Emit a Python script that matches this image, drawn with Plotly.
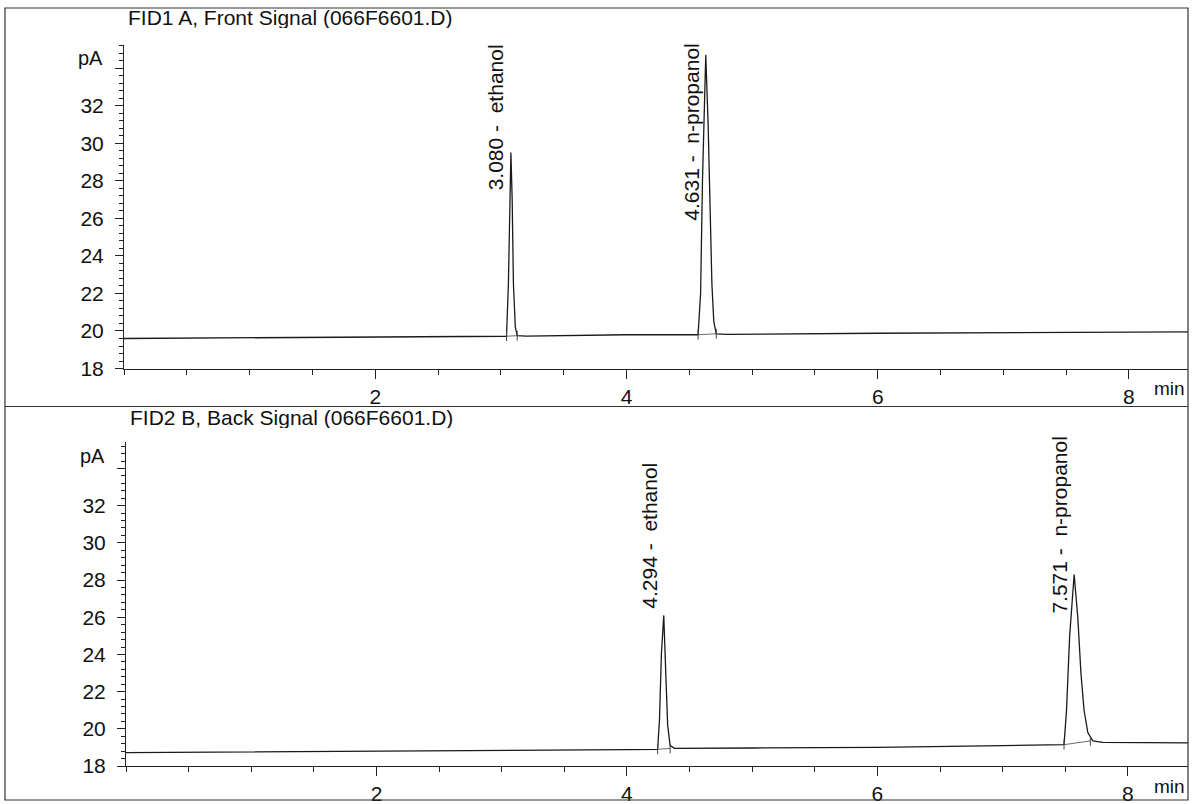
import plotly.graph_objects as go

W, H = 1193, 804
FIG_H = 814  # page height compensation (positions below are given as fractions of 804 px)

# ---------------- data ----------------
# Top panel: FID1 A, Front Signal
front_time = [0.0, 1.0, 2.0, 2.9, 3.045, 3.06, 3.07, 3.08, 3.09, 3.10, 3.115, 3.13, 3.2,
              4.0, 4.57, 4.59, 4.605, 4.631, 4.65, 4.665, 4.68, 4.695, 4.715, 4.8, 6.0, 8.5]
front_pA = [19.6, 19.65, 19.7, 19.72, 19.72, 22.5, 27.0, 29.5, 27.0, 22.5, 20.2, 19.75, 19.73,
            19.8, 19.8, 22.0, 28.0, 34.7, 31.0, 26.0, 22.5, 20.5, 19.85, 19.82, 19.88, 19.95]

# Bottom panel: FID2 B, Back Signal
back_time = [0.0, 1.0, 2.0, 3.0, 4.0, 4.245, 4.26, 4.275, 4.294, 4.31, 4.325, 4.345, 4.38,
             5.0, 6.0, 7.0, 7.49, 7.51, 7.535, 7.571, 7.6, 7.625, 7.65, 7.68, 7.72, 7.8, 8.5]
back_pA = [18.72, 18.75, 18.8, 18.85, 18.88, 18.9, 20.5, 24.0, 26.1, 23.0, 20.2, 19.1, 18.95,
           18.97, 19.0, 19.1, 19.15, 21.0, 25.0, 28.3, 26.0, 23.0, 21.0, 19.8, 19.35, 19.27, 19.25]

# Peak tables (retention time, apex value, name)
front_rt = [3.080, 4.631]
front_apex = [29.5, 34.7]
front_names = ["ethanol", "n-propanol"]
back_rt = [4.294, 7.571]
back_apex = [26.1, 28.3]
back_names = ["ethanol", "n-propanol"]

# Integration baseline start/end (time, pA)
front_int_t = [[3.045, 3.13], [4.57, 4.715]]
front_int_y = [[19.72, 19.75], [19.8, 19.85]]
back_int_t = [[4.245, 4.345], [7.49, 7.70]]
back_int_y = [[18.9, 18.95], [19.15, 19.35]]

y_ticks = [18, 20, 22, 24, 26, 28, 30, 32, 34]
y_ticklabels = ["18", "20", "22", "24", "26", "28", "30", "32", ""]
x_ticks = [2, 4, 6, 8]
x_ticklabels = ["2", "4", "6", "8"]

# ---------------- layout geometry (pixels) ----------------
FONT = "Liberation Sans, Arial, sans-serif"
TICKSIZE = 21
LABELSIZE = 21

def px_x(p):
    return p / W

def px_y(p):
    return 1 - p / H

panels = [
    dict(x0=124, x1=1188, ybot=369, ytop=45, yr=[18, 35.23], xr=[0, 8.47],
         t=front_time, v=front_pA, rt=front_rt, apex=front_apex, names=front_names,
         it=front_int_t, iy=front_int_y,
         title="FID1 A, Front Signal (066F6601.D)", title_y=17, pa_y=58, min_y=389,
         anchors=["top", "top"], label_top=42),
    dict(x0=126, x1=1188, ybot=767, ytop=443, yr=[18, 35.4], xr=[0, 8.48],
         t=back_time, v=back_pA, rt=back_rt, apex=back_apex, names=back_names,
         it=back_int_t, iy=back_int_y,
         title="FID2 B, Back Signal (066F6601.D)", title_y=418, pa_y=457, min_y=787,
         anchors=["bottom", "top"], label_top=435),
]

fig = go.Figure()
annotations = []
shapes = []

for i, p in enumerate(panels):
    xa = "x" if i == 0 else "x2"
    ya = "y" if i == 0 else "y2"
    # chromatogram trace
    fig.add_trace(go.Scatter(x=p["t"], y=p["v"], mode="lines", xaxis=xa, yaxis=ya,
                             line=dict(color="#1a1a1a", width=1.3), showlegend=False,
                             hoverinfo="skip"))
    # integration baselines and tick marks
    for tt, yy in zip(p["it"], p["iy"]):
        fig.add_trace(go.Scatter(x=tt, y=yy, mode="lines+markers", xaxis=xa, yaxis=ya,
                                 line=dict(color="#444444", width=0.8),
                                 marker=dict(symbol="line-ns-open", size=7,
                                             line=dict(color="#444444", width=1)),
                                 showlegend=False, hoverinfo="skip"))
    # peak labels
    for rt, ap, nm, anc in zip(p["rt"], p["apex"], p["names"], p["anchors"]):
        txt = f"{rt:.3f} -  {nm}"
        if anc == "top":
            annotations.append(dict(x=rt, xref=xa, y=px_y(p["label_top"]), yref="paper",
                                    text=txt, textangle=-90, showarrow=False,
                                    xanchor="right", yanchor="top", xshift=-1,
                                    font=dict(family=FONT, size=LABELSIZE, color="#111")))
        else:
            annotations.append(dict(x=rt, xref=xa, y=ap, yref=ya,
                                    text=txt, textangle=-90, showarrow=False,
                                    xanchor="right", yanchor="bottom", xshift=-1, yshift=5,
                                    font=dict(family=FONT, size=LABELSIZE, color="#111")))
    # panel title
    annotations.append(dict(x=px_x(p["x0"] + 3), y=px_y(p["title_y"]), xref="paper", yref="paper",
                            text=p["title"], showarrow=False, xanchor="left", yanchor="middle",
                            borderpad=0, height=22, valign="middle",
                            font=dict(family=FONT, size=LABELSIZE, color="#111")))
    # pA unit
    annotations.append(dict(x=px_x(p["x0"] - 19), y=px_y(p["pa_y"]), xref="paper", yref="paper",
                            text="pA", showarrow=False, xanchor="right", yanchor="middle",
                            font=dict(family=FONT, size=TICKSIZE - 1, color="#111")))
    # min unit
    annotations.append(dict(x=px_x(1152), y=px_y(p["min_y"]), xref="paper", yref="paper",
                            text="min", showarrow=False, xanchor="left", yanchor="middle",
                            font=dict(family=FONT, size=TICKSIZE - 2, color="#111")))

    axis_common = dict(showgrid=False, zeroline=False, showline=True, linecolor="#222",
                       linewidth=1, ticks="outside", tickcolor="#222", tickwidth=1,
                       tickfont=dict(family=FONT, size=TICKSIZE, color="#111"))
    xdict = dict(axis_common, domain=[px_x(p["x0"]), px_x(p["x1"])], range=p["xr"],
                 tickvals=x_ticks, ticktext=x_ticklabels, ticklen=9, ticklabelstandoff=0,
                 minor=dict(dtick=0.5, tick0=0, ticklen=5, ticks="outside", tickcolor="#222"),
                 anchor=ya)
    ydict = dict(axis_common, domain=[px_y(p["ybot"]), px_y(p["ytop"])], range=p["yr"],
                 tickvals=y_ticks, ticktext=y_ticklabels, ticklen=8, ticklabelstandoff=7,
                 minor=dict(dtick=0.4, tick0=18, ticklen=4, ticks="outside", tickcolor="#222"),
                 anchor=xa)
    if i == 0:
        fig.update_layout(xaxis=xdict, yaxis=ydict)
    else:
        fig.update_layout(xaxis2=xdict, yaxis2=ydict)

# outer frame and panel separator
shapes.append(dict(type="rect", xref="paper", yref="paper", x0=px_x(5), x1=px_x(1188),
                   y0=px_y(801), y1=px_y(8), line=dict(color="#333", width=1.2)))
shapes.append(dict(type="line", xref="paper", yref="paper", x0=px_x(5), x1=px_x(1188),
                   y0=px_y(407), y1=px_y(407), line=dict(color="#333", width=1.2)))

fig.update_layout(width=W, height=FIG_H, margin=dict(l=0, r=0, t=0, b=0),
                  paper_bgcolor="white", plot_bgcolor="white",
                  annotations=annotations, shapes=shapes, showlegend=False)

post = (
    "document.documentElement.style.margin='0';"
    "document.body.style.margin='0';"
)
fig.write_html("out.html", config={"displayModeBar": False}, post_script=post)
